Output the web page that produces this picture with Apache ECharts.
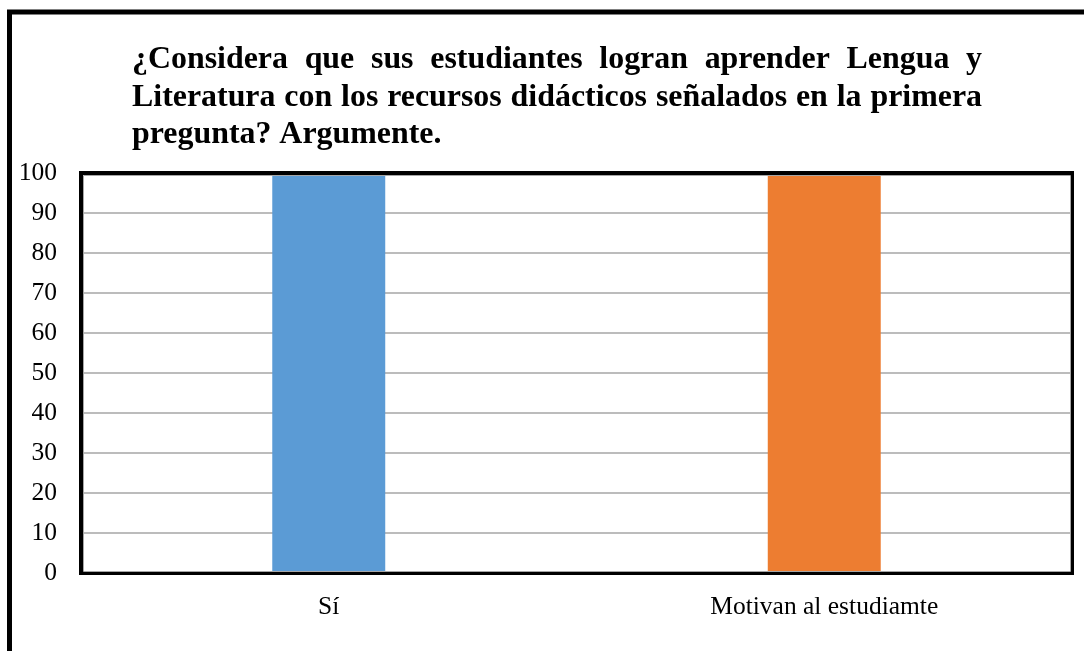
<!DOCTYPE html>
<html>
<head>
<meta charset="utf-8">
<script src="https://cdn.jsdelivr.net/npm/echarts@6/dist/echarts.min.js"></script>
<style>
  html, body { margin: 0; padding: 0; background: #fff; }
  #main { width: 1084px; height: 651px; }
</style>
</head>
<body>
<div id="main"></div>
<script>
const categories = ['Sí', 'Motivan al estudiamte']
const values = [100, 100]
const barColors = ['#5B9BD5', '#ED7D31']
const titleLines = [
  '¿Considera que sus estudiantes logran aprender Lengua y',
  'Literatura con los recursos didácticos señalados en la primera',
  'pregunta? Argumente.'
]

const serif = '"Liberation Serif", "Times New Roman", serif'

// justified title, like the word processor did it
const ctx = document.createElement('canvas').getContext('2d')
const titleLeft = 132, titleWidth = 850
// size the font so the second line just fills the box
ctx.font = 'bold 100px ' + serif
const titleSize = Math.floor(100 * (titleWidth - 6) / ctx.measureText(titleLines[1]).width * 10) / 10
const titleFont = 'bold ' + titleSize + 'px ' + serif
ctx.font = titleFont
const titleEls = []
titleLines.forEach((line, i) => {
  const y = 44 + i * 37.5
  const words = line.split(' ')
  if (i === titleLines.length - 1) {
    titleEls.push({ type: 'text', x: titleLeft, y: y, style: { text: line, font: titleFont, fill: '#000', textVerticalAlign: 'top' } })
    return
  }
  const widths = words.map(w => ctx.measureText(w).width)
  const total = widths.reduce((a, b) => a + b, 0)
  const gap = (titleWidth - total) / (words.length - 1)
  let x = titleLeft
  words.forEach((w, k) => {
    titleEls.push({ type: 'text', x: x, y: y, style: { text: w, font: titleFont, fill: '#000', textVerticalAlign: 'top' } })
    x += widths[k] + gap
  })
})

const chart = echarts.init(document.getElementById('main'))
chart.setOption({
  animation: false,
  backgroundColor: '#fff',
  graphic: [
    {
      type: 'rect',
      shape: { x: 9.5, y: 12, width: 1200, height: 800 },
      style: { fill: 'none', stroke: '#000', lineWidth: 5 },
      z: 100
    },
    {
      // thin grey inner edge of the plot frame
      type: 'rect',
      shape: { x: 83.5, y: 175.5, width: 987, height: 396 },
      style: { fill: 'none', stroke: '#A6A6A6', lineWidth: 1 },
      z: 100
    }
  ].concat(titleEls),
  grid: {
    left: 81, top: 173, width: 991, height: 400,
    show: true,
    borderColor: '#000',
    borderWidth: 4,
    z: 3
  },
  xAxis: {
    type: 'category',
    data: categories,
    axisLine: { show: true, lineStyle: { color: '#000', width: 4 } },
    axisTick: { show: false },
    axisLabel: { color: '#000', fontFamily: serif, fontSize: 25.5, margin: 21 }
  },
  yAxis: {
    type: 'value',
    min: 0,
    max: 100,
    interval: 10,
    axisLine: { show: false },
    axisTick: { show: false },
    splitLine: { lineStyle: { color: '#A6A6A6', width: 1.5 } },
    axisLabel: { color: '#000', fontFamily: serif, fontSize: 25.5, margin: 24 }
  },
  series: [
    {
      type: 'bar',
      barWidth: '22.8%',
      data: values.map((v, i) => ({ value: v, itemStyle: { color: barColors[i] } })),
      z: 2
    }
  ]
})
</script>
</body>
</html>
